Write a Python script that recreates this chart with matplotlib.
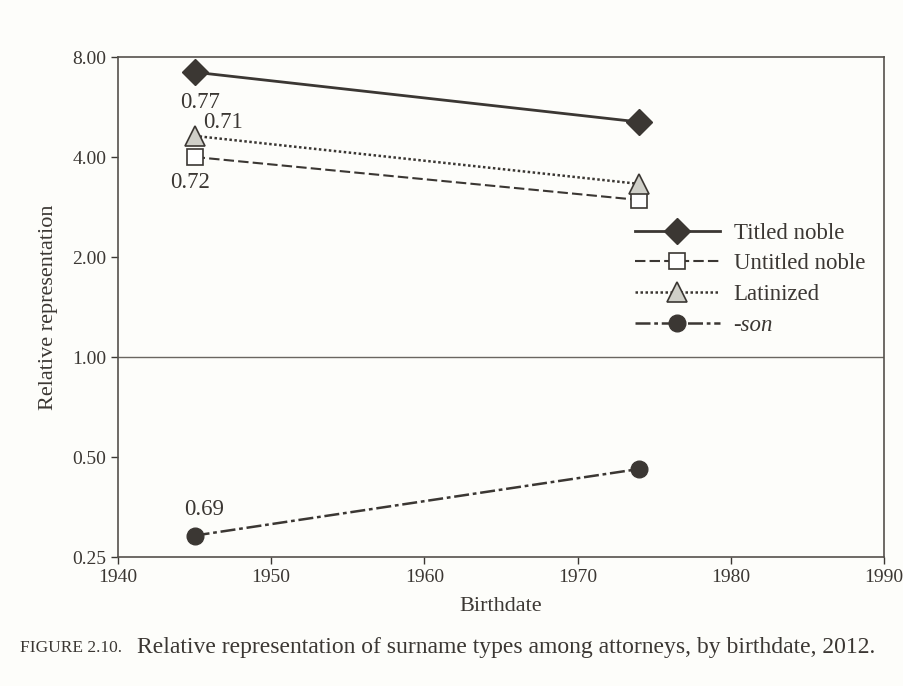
import numpy as np
import matplotlib.pyplot as plt
from matplotlib.ticker import FixedLocator, NullLocator

plt.rcParams['font.family'] = ['Liberation Serif', 'DejaVu Serif']

years = [1945, 1974]
titled = [7.2, 5.1]
untitled = [4.0, 2.97]
latinized = [4.63, 3.32]
son = [0.29, 0.46]
labels = ["Titled noble", "Untitled noble", "Latinized", "-son"]
yticks = [0.25, 0.5, 1.0, 2.0, 4.0, 8.0]
xticks = [1940, 1950, 1960, 1970, 1980, 1990]

ink = "#3b3733"
bg = "#fdfdfa"

fig = plt.figure(figsize=(9.04, 6.86), dpi=100, facecolor=bg)
ax = fig.add_axes([118/904, 1 - 557/686, (884-118)/904, (557-57)/686])
ax.set_facecolor(bg)

ax.plot(years, titled, color=ink, lw=2, ls="-", marker="D", ms=13,
        mfc=ink, mec=ink, label=labels[0])
ax.plot(years, untitled, color=ink, lw=1.5, ls=(0, (5, 2)), marker="s", ms=11,
        mfc="white", mec=ink, mew=1.2, label=labels[1])
ax.plot(years, latinized, color=ink, lw=1.8, ls=(0, (1, 1)), marker="^", ms=14,
        mfc="#cfcfc8", mec=ink, mew=1.2, label=labels[2])
ax.plot(years, son, color=ink, lw=1.8, ls=(0, (6, 1.5, 1.5, 1.5)), marker="o", ms=12,
        mfc=ink, mec=ink, label=labels[3])

ax.axhline(1.0, color="#6a6660", lw=1)

ax.set_yscale("log", base=2)
ax.set_ylim(0.25, 8.0)
ax.set_xlim(1940, 1990)
ax.yaxis.set_major_locator(FixedLocator(yticks))
ax.yaxis.set_minor_locator(NullLocator())
ax.set_yticklabels([f"{v:.2f}" for v in yticks])
ax.set_xticks(xticks)

for s in ax.spines.values():
    s.set_color("#55514c")
    s.set_linewidth(1.2)
ax.tick_params(colors=ink, labelsize=14, length=5, width=1)

ax.set_xlabel("Birthdate", fontsize=16, color=ink, labelpad=8)
ax.set_ylabel("Relative representation", fontsize=16, color=ink, labelpad=10)

ax.annotate("0.77", (years[0], titled[0]), xytext=(4, -14), textcoords="offset points",
            ha="center", va="top", fontsize=16.5, color=ink)
ax.annotate("0.71", (years[0], latinized[0]), xytext=(6, 2), textcoords="offset points",
            ha="left", va="bottom", fontsize=16.5, color=ink)
ax.annotate("0.72", (years[0], untitled[0]), xytext=(-3, -11), textcoords="offset points",
            ha="center", va="top", fontsize=16.5, color=ink)
ax.annotate("0.69", (years[0], son[0]), xytext=(7, 11), textcoords="offset points",
            ha="center", va="bottom", fontsize=16.5, color=ink)

leg = ax.legend(loc="upper left", bbox_to_anchor=(0.648, 0.71), frameon=False,
                fontsize=16.5, handlelength=3.7, handletextpad=0.6, labelspacing=0.42,
                labelcolor=ink)
leg.get_texts()[3].set_style("italic")

fig.text(20/904, 1 - 648/686, "FIGURE 2.10.", fontsize=12.5, color=ink, va="center")
fig.text(137/904, 1 - 648/686,
         "Relative representation of surname types among attorneys, by birthdate, 2012.",
         fontsize=17, color=ink, va="center")

fig.savefig("out.png", dpi=100, facecolor=bg)
